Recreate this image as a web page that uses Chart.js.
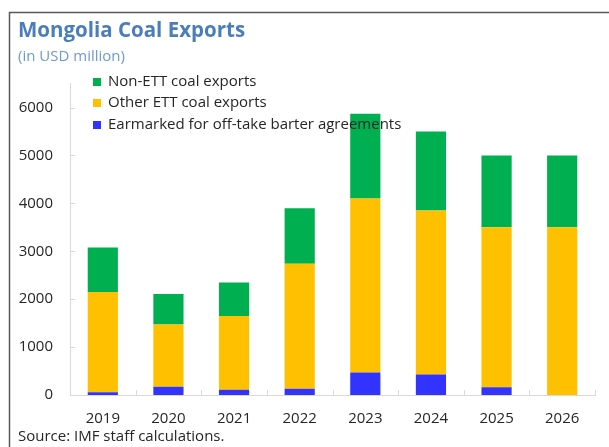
<!DOCTYPE html>
<html>
<head>
<meta charset="utf-8">
<script src="https://cdn.jsdelivr.net/npm/chart.js@4/dist/chart.umd.min.js"></script>
<style>
  html, body { margin: 0; padding: 0; background: #fff; }
  #wrap { width: 609px; height: 447px; position: relative; }
</style>
</head>
<body>
<div id="wrap"><canvas id="chart"></canvas></div>
<script>
// Données (USD million)
const years = ['2019', '2020', '2021', '2022', '2023', '2024', '2025', '2026'];
const earmarked = [60, 170, 110, 130, 470, 430, 160, 0];
const otherEtt = [2090, 1300, 1540, 2610, 3630, 3420, 3340, 3500];
const nonEtt = [930, 640, 700, 1160, 1770, 1650, 1500, 1500];
const yTicks = [0, 1000, 2000, 3000, 4000, 5000, 6000];

const FONT = '"Open Sans", "Noto Sans", sans-serif';
const AXIS = '#d9d9d9';
const TXT = '#262626';

// Cadre, légende verticale, petites graduations intérieures et source
const extras = {
  id: 'extras',
  afterDraw(chart) {
    const { ctx, chartArea: a, scales: { x, y } } = chart;
    ctx.save();
    ctx.strokeStyle = '#595959'; ctx.lineWidth = 1.5;
    ctx.beginPath(); ctx.moveTo(9.5, 447); ctx.lineTo(9.5, 12.5); ctx.lineTo(609, 12.5); ctx.stroke();

    ctx.strokeStyle = AXIS; ctx.lineWidth = 1;
    ctx.beginPath();
    for (let i = 0; i <= years.length; i++) {
      const px = Math.round(x.getPixelForValue(i - 0.5)) + 0.5;
      ctx.moveTo(px, a.bottom); ctx.lineTo(px, a.bottom - 5);
    }
    for (const t of y.ticks) {
      const py = Math.round(y.getPixelForValue(t.value)) + 0.5;
      ctx.moveTo(a.left, py); ctx.lineTo(a.left + 5, py);
    }
    ctx.stroke();

    // légende (ordre inverse de l'empilement)
    ctx.font = `15px ${FONT}`; ctx.textBaseline = 'middle'; ctx.textAlign = 'left';
    const ds = chart.data.datasets.slice().reverse();
    ds.forEach((d, i) => {
      const cy = 81.5 + i * 21.5;
      ctx.fillStyle = d.backgroundColor; ctx.fillRect(93, Math.round(cy - 4), 8, 8);
      ctx.fillStyle = TXT; ctx.fillText(d.label, 108, cy);
    });

    ctx.fillText('Source: IMF staff calculations.', 18, 437);
    ctx.restore();
  },
};

new Chart(document.getElementById('chart'), {
  type: 'bar',
  data: {
    labels: years,
    datasets: [
      { label: 'Earmarked for off-take barter agreements', data: earmarked, backgroundColor: '#3333ff' },
      { label: 'Other ETT coal exports', data: otherEtt, backgroundColor: '#ffc000' },
      { label: 'Non-ETT coal exports', data: nonEtt, backgroundColor: '#00b050' },
    ],
  },
  options: {
    responsive: true,
    maintainAspectRatio: false,
    animation: false,
    layout: { padding: { left: 18, right: 14, top: 0, bottom: 4 } },
    datasets: { bar: { barPercentage: 0.46, categoryPercentage: 1, borderWidth: 0 } },
    plugins: {
      legend: { display: false },
      tooltip: { enabled: false },
      title: {
        display: true, text: 'Mongolia Coal Exports', align: 'start', color: '#4a7ebb',
        font: { family: FONT, size: 20.5, weight: 'bold' }, padding: { top: 19, bottom: 0 },
      },
      subtitle: {
        display: true, text: '(in USD million)', align: 'start', color: '#6f9bcb',
        font: { family: FONT, size: 15 }, padding: { top: 4, bottom: 18 },
      },
    },
    scales: {
      x: {
        stacked: true,
        grid: { display: false, drawTicks: false },
        border: { color: AXIS, width: 1 },
        ticks: { color: TXT, font: { family: FONT, size: 15 }, padding: 15 },
      },
      y: {
        stacked: true, min: 0, max: 6500,
        grid: { display: false, drawTicks: false },
        border: { color: AXIS, width: 1 },
        afterBuildTicks: (s) => { s.ticks = yTicks.map((v) => ({ value: v })); },
        ticks: { color: TXT, font: { family: FONT, size: 15 }, padding: 17, callback: (v) => String(v) },
        afterFit: (s) => { s.width = 52; },
      },
    },
  },
  plugins: [extras],
});
</script>
</body>
</html>
